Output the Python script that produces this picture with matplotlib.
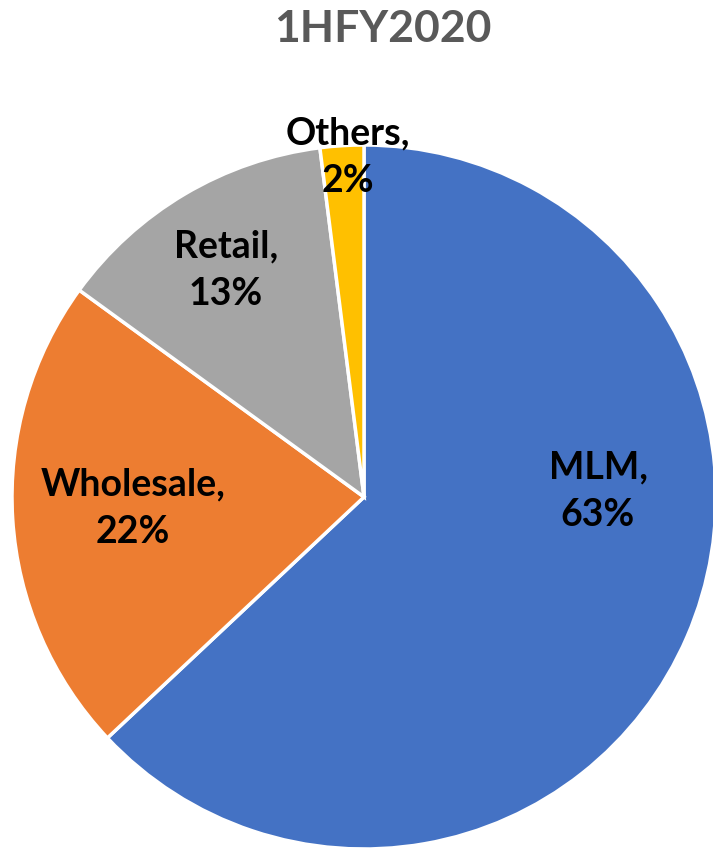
import matplotlib.pyplot as plt

plt.rcParams['font.family'] = ['Lato', 'DejaVu Sans']

# data
categories = ['MLM', 'Wholesale', 'Retail', 'Others']
shares = [63, 22, 13, 2]
colors = ['#4472C4', '#ED7D31', '#A5A5A5', '#FFC000']

# label anchor points (pixel coords, y from top)
label_pos = [(598, 491), (133, 508), (226, 270), (348, 157)]

W, H = 713, 854
fig = plt.figure(figsize=(W / 100, H / 100), dpi=100)
ax = fig.add_axes([0, 0, 1, 1])

cx, cy, r = 364, H - 498, 352
ax.pie(shares, colors=colors, startangle=90, counterclock=False,
       center=(cx, cy), radius=r, frame=True,
       wedgeprops=dict(edgecolor='white', linewidth=2.5))
ax.set_xlim(0, W)
ax.set_ylim(0, H)
ax.axis('off')

for name, val, (px, py) in zip(categories, shares, label_pos):
    ax.text(px, H - py, f'{name},\n{val}%', ha='center', va='center',
            fontsize=27, fontweight='bold', color='black', linespacing=1.5)

fig.text(383 / W, 1 - 29 / H, '1HFY2020', ha='center', va='center',
         fontsize=32, fontweight='bold', color='#595959')

fig.savefig('out.png', dpi=100)
